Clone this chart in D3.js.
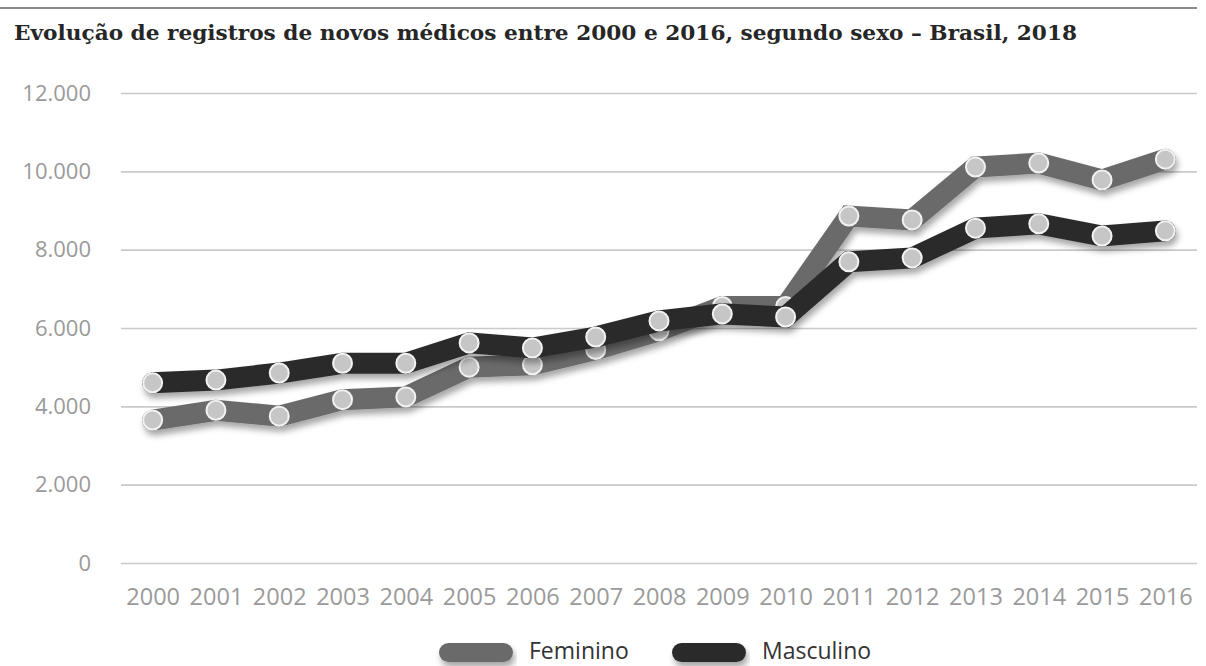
<!DOCTYPE html>
<html>
<head>
<meta charset="utf-8">
<script src="https://cdn.jsdelivr.net/npm/d3@7"></script>
<style>
  body { margin: 0; background: #fff; }
  svg { display: block; }
</style>
</head>
<body>
<svg id="chart" width="1206" height="666"></svg>
<script>
// Data
const years = ["2000","2001","2002","2003","2004","2005","2006","2007","2008","2009","2010","2011","2012","2013","2014","2015","2016"];
const feminino = [3650, 3900, 3750, 4170, 4240, 5000, 5060, 5450, 5930, 6550, 6550, 8860, 8760, 10110, 10210, 9780, 10310];
const masculino = [4600, 4670, 4850, 5100, 5100, 5620, 5490, 5770, 6180, 6360, 6280, 7690, 7790, 8550, 8660, 8350, 8480];
const yTicks = [0, 2000, 4000, 6000, 8000, 10000, 12000];
const seriesNames = ["Feminino", "Masculino"];
const titleText = "Evolução de registros de novos médicos entre 2000 e 2016, segundo sexo – Brasil, 2018";

const svg = d3.select("#chart"),
      width = +svg.attr("width");

const colors = { Feminino: "#6b6b6b", Masculino: "#2c2c2c" };

// Shadow under the thick lines
const defs = svg.append("defs");
const f = defs.append("filter").attr("id", "shadow")
  .attr("x", "-5%").attr("y", "-20%").attr("width", "110%").attr("height", "140%");
f.append("feDropShadow")
  .attr("dx", 2).attr("dy", 5).attr("stdDeviation", 3)
  .attr("flood-color", "#000").attr("flood-opacity", 0.35);

// Top rule + title
svg.append("line")
  .attr("x1", 0).attr("x2", 1197).attr("y1", 8).attr("y2", 8)
  .attr("stroke", "#8a8a8a").attr("stroke-width", 2);

svg.append("text")
  .attr("x", 14).attr("y", 40)
  .attr("textLength", 1063).attr("lengthAdjust", "spacingAndGlyphs")
  .style("font-family", "'DejaVu Serif', serif")
  .style("font-weight", "bold")
  .style("font-size", "21px")
  .attr("fill", "#262626")
  .text(titleText);

// Scales
const x = d3.scalePoint().domain(years).range([121, 1197]).padding(0.5);
const y = d3.scaleLinear().domain([0, 12000]).range([563, 93]);

const locale = d3.formatLocale({ decimal: ",", thousands: ".", grouping: [3], currency: ["R$", ""] });
const fmt = locale.format(",d");

// Y axis (gridlines + labels)
const yAxis = svg.append("g")
  .attr("transform", "translate(121,0)")
  .call(d3.axisLeft(y).tickValues(yTicks).tickSize(-(1197 - 121)).tickPadding(30).tickFormat(fmt));
yAxis.select(".domain").remove();
yAxis.selectAll(".tick line").attr("stroke", "#cacaca").attr("stroke-width", 1.6);
yAxis.selectAll(".tick text")
  .attr("fill", "#9a9a9a")
  .style("font-family", "'Open Sans', sans-serif")
  .style("font-size", "22px");

// X axis labels
const xAxis = svg.append("g")
  .attr("transform", "translate(0,563)")
  .call(d3.axisBottom(x).tickSize(0).tickPadding(25));
xAxis.select(".domain").remove();
xAxis.selectAll(".tick text")
  .attr("fill", "#9a9a9a")
  .style("font-family", "'Open Sans', sans-serif")
  .style("font-size", "23.5px");

// Lines
const series = [
  { name: "Feminino", values: feminino },
  { name: "Masculino", values: masculino }
];

const line = d3.line()
  .x((d, i) => x(years[i]))
  .y(d => y(d));

series.forEach(s => {
  const g = svg.append("g").attr("class", "series");
  g.append("path")
    .datum(s.values)
    .attr("d", line)
    .attr("fill", "none")
    .attr("stroke", colors[s.name])
    .attr("stroke-width", 21)
    .attr("stroke-linejoin", "miter")
    .attr("stroke-linecap", "round")
    .attr("filter", "url(#shadow)");

  g.selectAll("circle")
    .data(s.values)
    .join("circle")
    .attr("cx", (d, i) => x(years[i]))
    .attr("cy", d => y(d))
    .attr("r", 9.5)
    .attr("fill", "#c6c6c6")
    .attr("stroke", "#f2f2f2")
    .attr("stroke-width", 2);
});

// Legend
const legend = svg.append("g").attr("class", "legend");
const legendX = [439, 672];
seriesNames.forEach((name, i) => {
  const lg = legend.append("g").attr("transform", `translate(${legendX[i]},643)`);
  lg.append("rect")
    .attr("width", 74).attr("height", 19).attr("rx", 9.5)
    .attr("fill", colors[name])
    .attr("filter", "url(#shadow)");
  lg.append("text")
    .attr("x", 90).attr("y", 16)
    .attr("fill", "#333")
    .style("font-family", "'Open Sans', sans-serif")
    .style("font-size", "23px")
    .text(name);
});
</script>
</body>
</html>
